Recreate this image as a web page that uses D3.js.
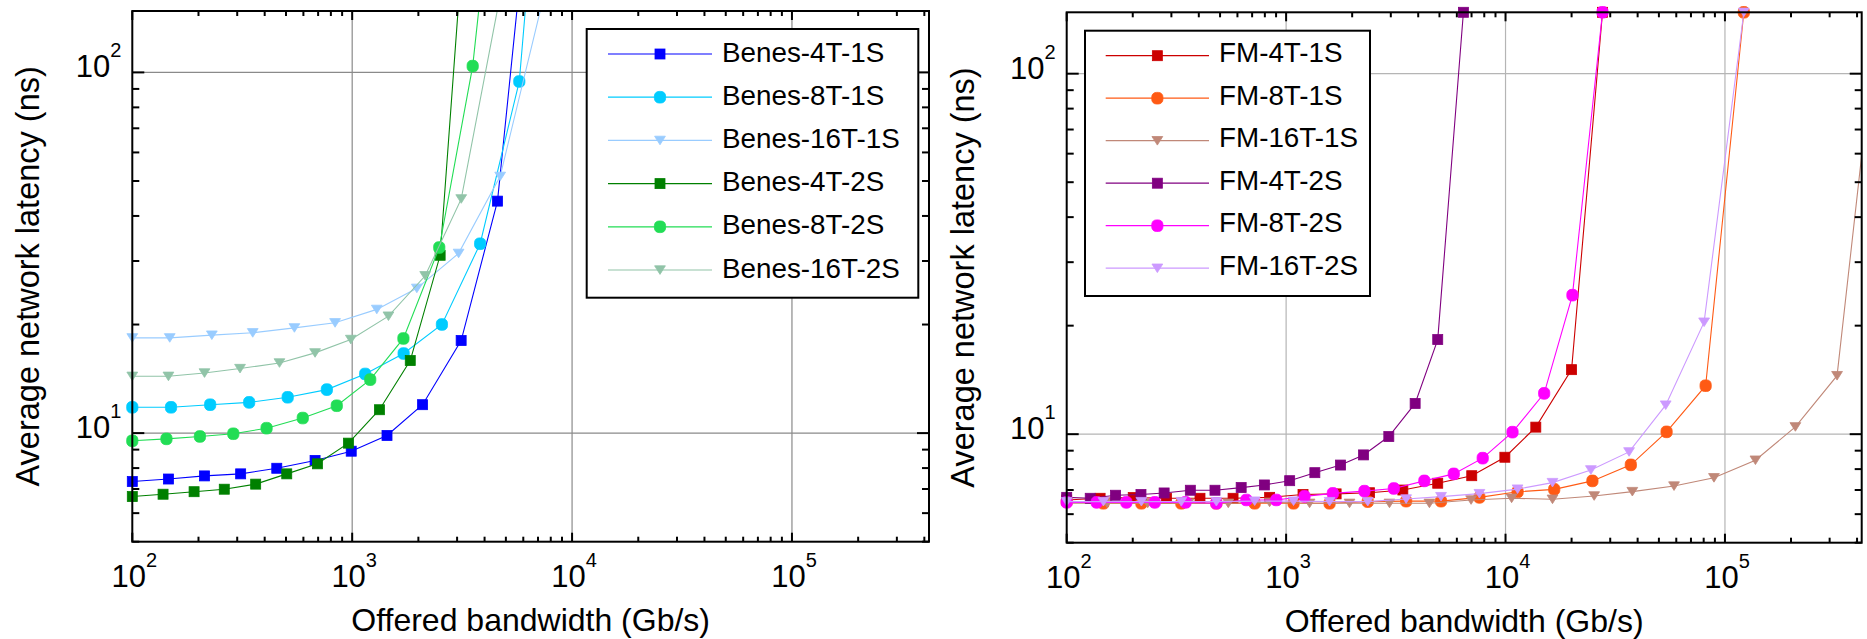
<!DOCTYPE html>
<html>
<head>
<meta charset="utf-8">
<script src="https://cdn.jsdelivr.net/npm/d3@7"></script>
<style>
  body { margin: 0; background: #fff; }
  svg { display: block; }
  text { font-family: "Liberation Sans", Arial, Helvetica, sans-serif; fill: #000; }
</style>
</head>
<body>
<svg id="chart" width="1867" height="639"></svg>
<script>
// ---------------- DATA ----------------
const xTickValues = [1e2, 1e3, 1e4, 1e5];
const xTickExponents = ["2", "3", "4", "5"];
const yTickValues = [1e1, 1e2];
const yTickExponents = ["1", "2"];
const xAxisTitle = "Offered bandwidth (Gb/s)";
const yAxisTitle = "Average network latency (ns)";

const benesLabels = ["Benes-4T-1S", "Benes-8T-1S", "Benes-16T-1S", "Benes-4T-2S", "Benes-8T-2S", "Benes-16T-2S"];
const fmLabels = ["FM-4T-1S", "FM-8T-1S", "FM-16T-1S", "FM-4T-2S", "FM-8T-2S", "FM-16T-2S"];

// Benes (offered bandwidth Gb/s, latency ns)
const benes4T1S_x = [100, 146, 213, 311, 454, 678, 990, 1440, 2090, 3130, 4580, 6710];
const benes4T1S_y = [7.34, 7.46, 7.61, 7.71, 7.99, 8.40, 8.91, 9.85, 11.99, 18.06, 43.97, 433];
const benes8T1S_x = [100, 150, 226, 340, 509, 767, 1146, 1714, 2559, 3819, 5754, 8650];
const benes8T1S_y = [11.79, 11.79, 11.99, 12.17, 12.57, 13.20, 14.59, 16.62, 20.01, 33.5, 94.4, 1780];
const benes16T1S_x = [100, 148, 230, 353, 546, 836, 1294, 1968, 3048, 4710, 7295];
const benes16T1S_y = [18.37, 18.37, 18.69, 18.97, 19.58, 20.22, 22.03, 25.2, 31.5, 51.5, 155];
const benes4T2S_x = [100, 138, 191, 262, 364, 504, 695, 962, 1330, 1837, 2512, 3475];
const benes4T2S_y = [6.67, 6.77, 6.88, 6.99, 7.22, 7.71, 8.22, 9.38, 11.61, 15.89, 31.12, 464];
const benes8T2S_x = [100, 143, 203, 288, 408, 596, 851, 1208, 1710, 2489, 3532, 5047];
const benes8T2S_y = [9.52, 9.64, 9.79, 9.96, 10.32, 11.01, 11.91, 14.07, 18.3, 32.7, 104.1, 777];
const benes16T2S_x = [100, 146, 213, 309, 467, 678, 986, 1462, 2148, 3133, 4603];
const benes16T2S_y = [14.37, 14.37, 14.68, 15.1, 15.65, 16.69, 18.18, 21.1, 27.3, 44.6, 152];

// FM
const fm4T1S_x = [100, 142, 201, 285, 405, 573, 841, 1194, 1690, 2399, 3404, 4909, 7015, 9931, 13740, 20000, 27670];
const fm4T1S_y = [6.57, 6.64, 6.67, 6.64, 6.64, 6.64, 6.68, 6.80, 6.83, 6.88, 7.0, 7.31, 7.67, 8.63, 10.46, 15.1, 148];
const fm8T1S_x = [100, 147, 219, 333, 481, 719, 1081, 1578, 2355, 3524, 5082, 7603, 11350, 16670, 24890, 37240, 54200, 81660, 121900];
const fm8T1S_y = [6.5, 6.43, 6.43, 6.43, 6.43, 6.43, 6.43, 6.43, 6.5, 6.52, 6.52, 6.68, 6.92, 7.03, 7.42, 8.22, 10.15, 13.63, 148];
const fm16T1S_x = [100, 153, 234, 359, 545, 841, 1279, 1945, 2958, 4498, 6966, 10660, 16370, 25350, 37840, 58610, 89130, 137700, 209400, 324300, 496600];
const fm16T1S_y = [6.43, 6.43, 6.43, 6.43, 6.43, 6.47, 6.43, 6.43, 6.43, 6.43, 6.57, 6.64, 6.6, 6.74, 6.93, 7.18, 7.57, 8.47, 10.48, 14.53, 148];
const fm4T2S_x = [100, 128, 167, 218, 278, 366, 474, 624, 796, 1038, 1352, 1770, 2254, 2938, 3873, 4909, 6427];
const fm4T2S_y = [6.68, 6.64, 6.77, 6.80, 6.87, 6.99, 6.99, 7.11, 7.23, 7.43, 7.82, 8.21, 8.76, 9.85, 12.17, 18.3, 148];
const fm8T2S_x = [100, 137, 187, 252, 348, 481, 659, 902, 1213, 1633, 2275, 3097, 4266, 5808, 7870, 10760, 15000, 20180, 27670];
const fm8T2S_y = [6.47, 6.47, 6.47, 6.47, 6.47, 6.43, 6.57, 6.57, 6.72, 6.85, 6.95, 7.07, 7.42, 7.76, 8.58, 10.13, 12.98, 24.3, 148];
const fm16T2S_x = [100, 147, 219, 333, 481, 719, 1081, 1578, 2355, 3524, 5082, 7603, 11350, 16370, 24490, 36560, 53700, 80350, 121900];
const fm16T2S_y = [6.5, 6.5, 6.5, 6.5, 6.5, 6.52, 6.52, 6.5, 6.5, 6.61, 6.71, 6.84, 7.04, 7.34, 7.96, 8.93, 12.04, 20.45, 148];

const xDomain = [100, 4.2e5];
const yDomain = [5, 148];

// ---------------- STYLES ----------------
const benesColors = ["#0000FF", "#00CCFF", "#99CCFF", "#008000", "#22DD55", "#91C4A8"];
const fmColors = ["#CC0000", "#FF5A14", "#C08878", "#800080", "#FF00FF", "#CC99FF"];
const markerShapes = ["square", "circle", "tri", "square", "circle", "tri"];

const benesSeries = [
  [benes4T1S_x, benes4T1S_y], [benes8T1S_x, benes8T1S_y], [benes16T1S_x, benes16T1S_y],
  [benes4T2S_x, benes4T2S_y], [benes8T2S_x, benes8T2S_y], [benes16T2S_x, benes16T2S_y]
].map((s, i) => ({ name: benesLabels[i], color: benesColors[i], shape: markerShapes[i],
  pts: s[0].map((x, j) => ({ x, y: s[1][j] })) }));
const fmSeries = [
  [fm4T1S_x, fm4T1S_y], [fm8T1S_x, fm8T1S_y], [fm16T1S_x, fm16T1S_y],
  [fm4T2S_x, fm4T2S_y], [fm8T2S_x, fm8T2S_y], [fm16T2S_x, fm16T2S_y]
].map((s, i) => ({ name: fmLabels[i], color: fmColors[i], shape: markerShapes[i],
  pts: s[0].map((x, j) => ({ x, y: s[1][j] })) }));

const svg = d3.select("#chart");
svg.append("rect").attr("width", 1867).attr("height", 639).attr("fill", "#fff");

function drawMarker(g, shape, cx, cy, color) {
  if (shape === "square") {
    g.append("rect").attr("x", cx - 5).attr("y", cy - 5).attr("width", 10).attr("height", 10)
      .attr("fill", color).attr("stroke", color).attr("stroke-width", 0.8);
  } else if (shape === "circle") {
    g.append("rect").attr("x", cx - 5.6).attr("y", cy - 5.8).attr("width", 11.2).attr("height", 11.6)
      .attr("rx", 4.6).attr("ry", 4.6)
      .attr("fill", color).attr("stroke", color).attr("stroke-width", 0.8);
  } else {
    g.append("path").attr("d", `M${cx - 5.4},${cy - 4.2}L${cx + 5.4},${cy - 4.2}L${cx},${cy + 4.4}Z`)
      .attr("fill", color).attr("stroke", color).attr("stroke-width", 0.8);
  }
}

function drawPanel(id, box, series, gridColor, leg) {
  const g = svg.append("g");
  const x = d3.scaleLog().domain(xDomain).range([box.x0, box.x1]);
  const y = d3.scaleLog().domain(yDomain).range([box.y1, box.y0]);

  const clipId = "clip-" + id;
  svg.append("defs").append("clipPath").attr("id", clipId)
    .append("rect").attr("x", box.x0).attr("y", box.y0)
    .attr("width", box.x1 - box.x0).attr("height", box.y1 - box.y0);

  // grid
  const grid = g.append("g");
  xTickValues.forEach(v => {
    if (v > xDomain[0] && v < xDomain[1]) {
      grid.append("line").attr("x1", x(v)).attr("x2", x(v)).attr("y1", box.y0).attr("y2", box.y1)
        .attr("stroke", gridColor).attr("stroke-width", 1.2);
    }
  });
  yTickValues.forEach(v => {
    grid.append("line").attr("x1", box.x0).attr("x2", box.x1).attr("y1", y(v)).attr("y2", y(v))
      .attr("stroke", gridColor).attr("stroke-width", 1.2);
  });

  // series
  const line = d3.line().x(d => x(d.x)).y(d => y(d.y));
  series.forEach(s => {
    g.append("path").attr("d", line(s.pts)).attr("fill", "none")
      .attr("stroke", s.color).attr("stroke-width", 1.1).attr("clip-path", `url(#${clipId})`);
    const mg = g.append("g");
    s.pts.forEach(p => {
      if (p.y <= yDomain[1] * 1.001 && p.x <= xDomain[1] && p.x >= xDomain[0]) {
        drawMarker(mg, s.shape, x(p.x), y(p.y), s.color);
      }
    });
  });

  // axes box + ticks
  const ax = g.append("g").attr("stroke", "#000");
  ax.append("rect").attr("x", box.x0).attr("y", box.y0).attr("width", box.x1 - box.x0)
    .attr("height", box.y1 - box.y0).attr("fill", "none").attr("stroke-width", 2);
  const xMinor = [];
  for (let e = 2; e <= 5; e++) for (let m = 1; m <= 9; m++) {
    const v = m * Math.pow(10, e);
    if (v >= xDomain[0] && v <= xDomain[1]) xMinor.push({ v, major: m === 1 });
  }
  xMinor.forEach(t => {
    const len = t.major ? 9 : 5;
    const px = x(t.v);
    ax.append("line").attr("x1", px).attr("x2", px).attr("y1", box.y1).attr("y2", box.y1 - len).attr("stroke-width", 2);
    ax.append("line").attr("x1", px).attr("x2", px).attr("y1", box.y0).attr("y2", box.y0 + len).attr("stroke-width", 2);
  });
  const yMinor = [];
  for (let e = 0; e <= 2; e++) for (let m = 1; m <= 9; m++) {
    const v = m * Math.pow(10, e);
    if (v >= yDomain[0] && v <= yDomain[1]) yMinor.push({ v, major: m === 1 });
  }
  yMinor.forEach(t => {
    const len = t.major ? 12 : 7;
    const py = y(t.v);
    ax.append("line").attr("x1", box.x0).attr("x2", box.x0 + len).attr("y1", py).attr("y2", py).attr("stroke-width", 2);
    ax.append("line").attr("x1", box.x1).attr("x2", box.x1 - len).attr("y1", py).attr("y2", py).attr("stroke-width", 2);
  });

  // tick labels
  xTickValues.forEach((v, i) => {
    const t = g.append("text").attr("x", x(v) + 2).attr("y", box.y1 + 45)
      .attr("text-anchor", "middle").attr("font-size", 31);
    t.append("tspan").text("10");
    t.append("tspan").attr("dy", -20).attr("font-size", 20).text(xTickExponents[i]);
  });
  yTickValues.forEach((v, i) => {
    const t = g.append("text").attr("x", box.x0 - 11).attr("y", y(v) + 5)
      .attr("text-anchor", "end").attr("font-size", 31);
    t.append("tspan").text("10");
    t.append("tspan").attr("dy", -20).attr("font-size", 20).text(yTickExponents[i]);
  });

  // axis titles
  g.append("text").attr("x", (box.x0 + box.x1) / 2).attr("y", box.y1 + 89)
    .attr("text-anchor", "middle").attr("font-size", 32).text(xAxisTitle);
  g.append("text").attr("transform", `translate(${box.x0 - 93},${(box.y0 + box.y1) / 2}) rotate(-90)`)
    .attr("text-anchor", "middle").attr("font-size", 32.5).text(yAxisTitle);

  // legend
  const lg = g.append("g");
  lg.append("rect").attr("x", leg.x0).attr("y", leg.y0).attr("width", leg.x1 - leg.x0)
    .attr("height", leg.y1 - leg.y0).attr("fill", "#fff").attr("stroke", "#000").attr("stroke-width", 2);
  series.forEach((s, i) => {
    const ry = leg.row0 + i * leg.dy;
    lg.append("line").attr("x1", leg.lx0).attr("x2", leg.lx1).attr("y1", ry).attr("y2", ry)
      .attr("stroke", s.color).attr("stroke-width", 1.2);
    drawMarker(lg, s.shape, (leg.lx0 + leg.lx1) / 2, ry, s.color);
    lg.append("text").attr("x", leg.tx).attr("y", ry + leg.tdy).attr("font-size", leg.fs).text(s.name);
  });
}

drawPanel("benes", { x0: 132.3, x1: 929, y0: 11, y1: 541.7 }, benesSeries, "#8a8a8a",
  { x0: 586.7, x1: 918.3, y0: 29, y1: 297.7, row0: 54, dy: 43.2, lx0: 608, lx1: 712, tx: 722, tdy: 7.5, fs: 27.8 });
drawPanel("fm", { x0: 1066.7, x1: 1861.7, y0: 12.3, y1: 542.7 }, fmSeries, "#b5b5b5",
  { x0: 1085, x1: 1370, y0: 30.7, y1: 296, row0: 55.7, dy: 42.5, lx0: 1105.7, lx1: 1209, tx: 1219, tdy: 6.5, fs: 27.8 });
</script>
</body>
</html>
